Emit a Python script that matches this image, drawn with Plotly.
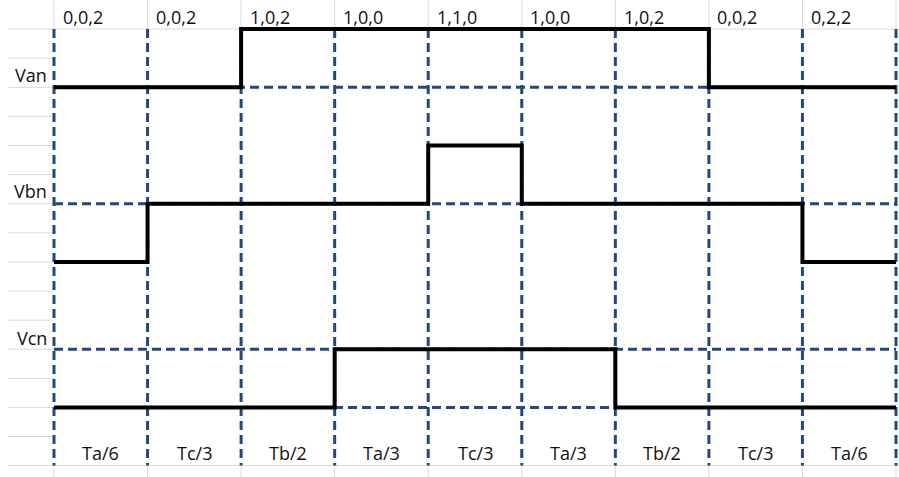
import plotly.graph_objects as go

# ---- data ----
segment_index = [0, 1, 2, 3, 4, 5, 6, 7, 8, 9]          # segment boundaries
state_labels = ["0,0,2", "0,0,2", "1,0,2", "1,0,0", "1,1,0", "1,0,0", "1,0,2", "0,0,2", "0,2,2"]
time_labels = ["Ta/6", "Tc/3", "Tb/2", "Ta/3", "Tc/3", "Ta/3", "Tb/2", "Tc/3", "Ta/6"]
van_levels = [0, 0, 1, 1, 1, 1, 1, 0, 0]
vbn_levels = [0, 1, 1, 1, 2, 1, 1, 1, 0]
vcn_levels = [0, 0, 0, 1, 1, 1, 0, 0, 0]
signal_names = ["Van", "Vbn", "Vcn"]

# ---- layout constants (sheet rows) ----
W, H = 899, 477
ROW_PX = 29.1
N_ROWS = 16
X_LEFT, X_RIGHT = -0.5772, 9.0321
Y_BOTTOM = H / ROW_PX           # in rows
BASE_ROW = {"Van": 3, "Vbn": 9, "Vcn": 14}   # row of level 0
ROWS_PER_LEVEL = 2

GRAY = "#d9d9d9"
DASH_COL = "#1f4a80"
TXT = "#111111"
FONT = "Open Sans"
FSIZE = 18
DASH = dict(color=DASH_COL, width=3, dash="9px,5px")

fig = go.Figure()

def level_range(base):
    # level L sits at row base - ROWS_PER_LEVEL*L
    return [(base - Y_BOTTOM) / ROWS_PER_LEVEL, base / ROWS_PER_LEVEL]

axes = {"Van": "y2", "Vbn": "y3", "Vcn": "y4"}
series = {"Van": van_levels, "Vbn": vbn_levels, "Vcn": vcn_levels}

for name in signal_names:
    lv = series[name]
    fig.add_trace(go.Scatter(
        x=segment_index, y=lv + [lv[-1]],
        mode="lines", line=dict(color="black", width=4, shape="hv"),
        yaxis=axes[name], hoverinfo="skip", showlegend=False))

shapes = []
# gray sheet grid: left-column row lines
for r in range(1, N_ROWS + 1):
    full = r in (1, N_ROWS)
    shapes.append(dict(type="line", xref="x", yref="y", x0=-0.4917,
                       x1=X_RIGHT if full else 0, y0=r, y1=r,
                       line=dict(color=GRAY, width=1), layer="below"))
# gray column lines in header row and below last row
for k in segment_index:
    shapes.append(dict(type="line", xref="x", yref="y", x0=k, x1=k, y0=0, y1=1,
                       line=dict(color=GRAY, width=1), layer="below"))
    shapes.append(dict(type="line", xref="x", yref="y", x0=k, x1=k, y0=N_ROWS, y1=Y_BOTTOM,
                       line=dict(color=GRAY, width=1), layer="below"))
# dashed vertical segment boundaries
for k in segment_index:
    shapes.append(dict(type="line", xref="x", yref="y", x0=k, x1=k, y0=1, y1=N_ROWS,
                       line=DASH, layer="below"))
# dashed horizontal reference levels
ref_levels = [("Van", 0), ("Vbn", 1), ("Vcn", 1), ("Vcn", 0)]
for name, L in ref_levels:
    shapes.append(dict(type="line", xref="x", yref=axes[name], x0=0, x1=9, y0=L, y1=L,
                       line=DASH, layer="below"))

annotations = []
for k, s in enumerate(state_labels):
    annotations.append(dict(x=k + 0.07, y=0.6, xref="x", yref="y", text=s, showarrow=False,
                            xanchor="left", yanchor="middle",
                            font=dict(family=FONT, size=FSIZE, color=TXT)))
for k, s in enumerate(time_labels):
    annotations.append(dict(x=k + 0.5, y=15.57, xref="x", yref="y", text=s, showarrow=False,
                            xanchor="center", yanchor="middle",
                            font=dict(family=FONT, size=FSIZE, color=TXT)))
label_rows = {"Van": 2.56, "Vbn": 6.56, "Vcn": 11.6}
for name in signal_names:
    annotations.append(dict(x=-0.05, y=label_rows[name], xref="x", yref="y", text=name,
                            showarrow=False, xanchor="right", yanchor="middle",
                            font=dict(family=FONT, size=FSIZE, color=TXT)))

hidden = dict(visible=False, showgrid=False, zeroline=False, fixedrange=True)
fig.update_layout(
    width=W, height=H, margin=dict(l=0, r=0, t=0, b=0),
    paper_bgcolor="white", plot_bgcolor="white",
    xaxis=dict(range=[X_LEFT, X_RIGHT], **hidden),
    yaxis=dict(range=[Y_BOTTOM, 0], **hidden),
    yaxis2=dict(range=level_range(BASE_ROW["Van"]), overlaying="y", **hidden),
    yaxis3=dict(range=level_range(BASE_ROW["Vbn"]), overlaying="y", **hidden),
    yaxis4=dict(range=level_range(BASE_ROW["Vcn"]), overlaying="y", **hidden),
    shapes=shapes, annotations=annotations, showlegend=False,
)

fig.write_html("out.html", config={"responsive": False, "displayModeBar": False},
               post_script="document.body.style.margin='0';document.body.style.overflow='hidden';")
